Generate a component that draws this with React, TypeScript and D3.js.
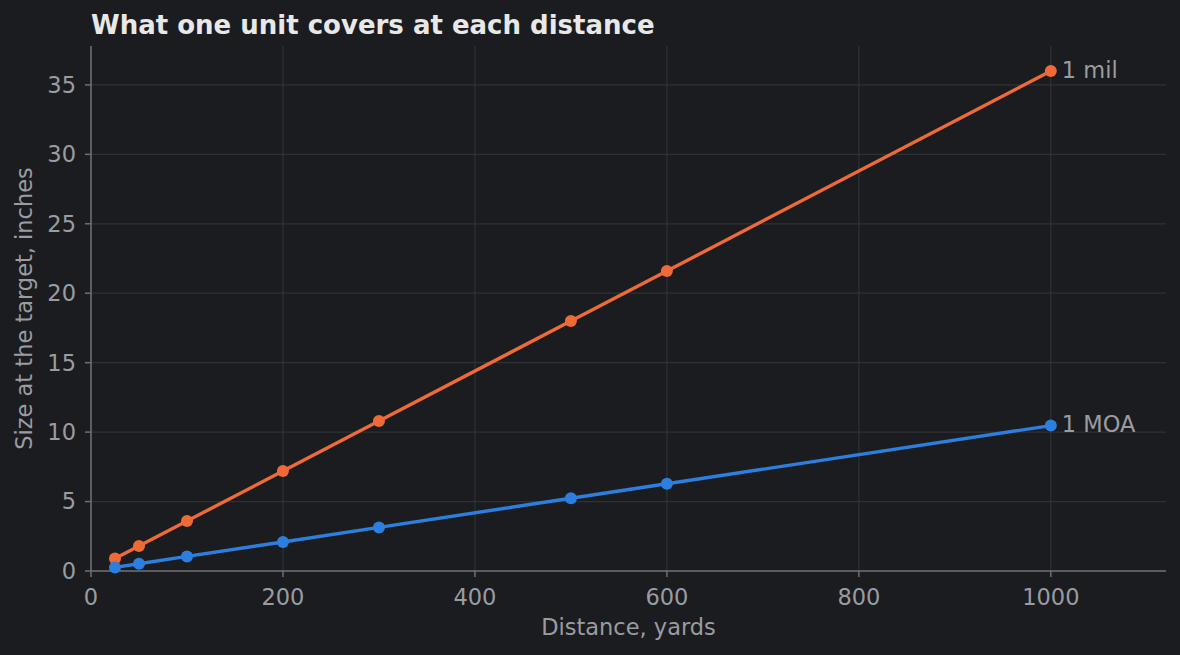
import React from 'react';
import * as d3 from 'd3';

const distances = [25, 50, 100, 200, 300, 500, 600, 1000];
const milInches = [0.9, 1.8, 3.6, 7.2, 10.8, 18, 21.6, 36];
const moaInches = [0.26, 0.52, 1.05, 2.09, 3.14, 5.24, 6.28, 10.47];
const xTicks = [0, 200, 400, 600, 800, 1000];
const yTicks = [0, 5, 10, 15, 20, 25, 30, 35];

const seriesList = [
  { name: '1 mil', values: milInches, color: '#ee6a37' },
  { name: '1 MOA', values: moaInches, color: '#2c7fde' },
];

const W = 1180;
const H = 655;
const M = { top: 46, right: 14, bottom: 84, left: 91 };
const FONT = '"DejaVu Sans", sans-serif';

export default function App() {
  const innerW = W - M.left - M.right;
  const innerH = H - M.top - M.bottom;
  const x = d3.scaleLinear().domain([0, 1120]).range([0, innerW]);
  const y = d3.scaleLinear().domain([0, 37.8]).range([innerH, 0]);

  const line = d3.line<[number, number]>()
    .x(d => x(d[0]))
    .y(d => y(d[1]));

  return (
    <svg width={W} height={H} style={{ position: 'fixed', left: 0, top: 0, background: '#1b1c1f' }}>
      <rect width={W} height={H} fill="#1b1c1f" />
      <text x={M.left} y={34} fill="#e8e8e8" fontFamily={FONT} fontWeight="bold" fontSize={26}>
        What one unit covers at each distance
      </text>
      <g transform={`translate(${M.left},${M.top})`}>
        {/* grid */}
        {yTicks.map(t => (
          <line key={'gy' + t} x1={0} x2={innerW} y1={y(t)} y2={y(t)} stroke="#303135" strokeWidth={1.2} />
        ))}
        {xTicks.map(t => (
          <line key={'gx' + t} x1={x(t)} x2={x(t)} y1={0} y2={innerH} stroke="#303135" strokeWidth={1.2} />
        ))}

        {/* spines */}
        <line x1={0} x2={0} y1={0} y2={innerH} stroke="#6c6f74" strokeWidth={1.5} />
        <line x1={0} x2={innerW} y1={innerH} y2={innerH} stroke="#6c6f74" strokeWidth={1.5} />

        {/* y ticks */}
        {yTicks.map(t => (
          <g key={'ty' + t}>
            <line x1={-6} x2={0} y1={y(t)} y2={y(t)} stroke="#6c6f74" strokeWidth={1.5} />
            <text x={-15} y={y(t)} dy="0.35em" textAnchor="end" fill="#9a9ca1" fontFamily={FONT} fontSize={22.5}>
              {t}
            </text>
          </g>
        ))}
        {/* x ticks */}
        {xTicks.map(t => (
          <g key={'tx' + t}>
            <line x1={x(t)} x2={x(t)} y1={innerH} y2={innerH + 6} stroke="#6c6f74" strokeWidth={1.5} />
            <text x={x(t)} y={innerH + 34} textAnchor="middle" fill="#9a9ca1" fontFamily={FONT} fontSize={22.5}>
              {t}
            </text>
          </g>
        ))}

        {/* series */}
        {seriesList.map(s => {
          const pts = distances.map((d, i) => [d, s.values[i]] as [number, number]);
          const last = pts[pts.length - 1];
          return (
            <g key={s.name}>
              <path d={line(pts) ?? ''} fill="none" stroke={s.color} strokeWidth={3.4} />
              {pts.map((p, i) => (
                <circle key={i} cx={x(p[0])} cy={y(p[1])} r={6} fill={s.color} />
              ))}
              <text x={x(last[0]) + 11} y={y(last[1])} dy="0.3em" fill="#9a9ca1" fontFamily={FONT} fontSize={22.5}>
                {s.name}
              </text>
            </g>
          );
        })}
      </g>

      {/* axis labels */}
      <text x={M.left + innerW / 2} y={635} textAnchor="middle" fill="#9a9ca1" fontFamily={FONT} fontSize={22.5}>
        Distance, yards
      </text>
      <text transform={`translate(32,${M.top + innerH / 2}) rotate(-90)`} textAnchor="middle" fill="#9a9ca1" fontFamily={FONT} fontSize={22.5}>
        Size at the target, inches
      </text>
    </svg>
  );
}
